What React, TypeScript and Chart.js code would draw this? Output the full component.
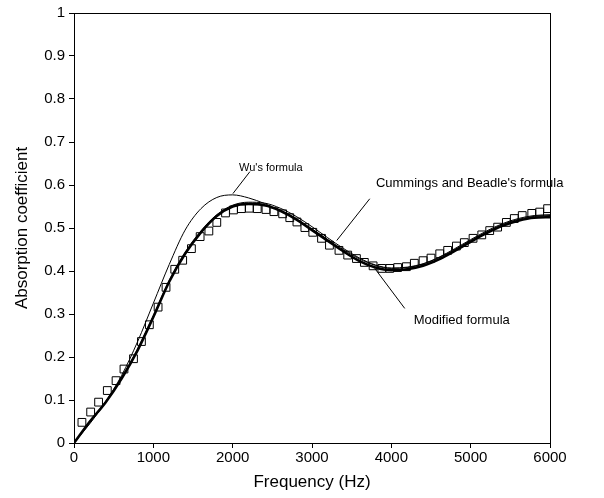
import React, { useEffect, useRef } from "react";
import { Chart, registerables } from "chart.js";

Chart.register(...registerables);

// Frequency grid (Hz) for the three predicted curves
const CURVE_FREQ = [0, 200, 400, 600, 800, 1000, 1200, 1400, 1600, 1800, 2000, 2200, 2400, 2600, 2800, 3000, 3200, 3400, 3600, 3800, 4000, 4200, 4400, 4600, 4800, 5000, 5200, 5400, 5600, 5800, 6000];

// Wu's formula
const WU = [0, 0.045, 0.096, 0.157, 0.235, 0.325, 0.415, 0.495, 0.545, 0.571, 0.577, 0.57, 0.557, 0.541, 0.521, 0.498, 0.473, 0.449, 0.428, 0.413, 0.406, 0.408, 0.416, 0.431, 0.45, 0.471, 0.491, 0.508, 0.52, 0.527, 0.529];

// Cummings and Beadle's formula
const CUMMINGS = [0, 0.05, 0.097, 0.152, 0.218, 0.296, 0.378, 0.443, 0.493, 0.531, 0.553, 0.56, 0.558, 0.546, 0.527, 0.503, 0.477, 0.452, 0.43, 0.414, 0.407, 0.409, 0.417, 0.432, 0.452, 0.473, 0.493, 0.51, 0.522, 0.529, 0.531];

// Modified formula
const MODIFIED = [0, 0.05, 0.095, 0.15, 0.215, 0.293, 0.375, 0.44, 0.49, 0.528, 0.55, 0.556, 0.553, 0.54, 0.52, 0.495, 0.47, 0.445, 0.423, 0.408, 0.402, 0.404, 0.412, 0.427, 0.447, 0.468, 0.488, 0.505, 0.517, 0.524, 0.525];

// Measured values (open squares)
const MEAS_FREQ = [100, 210, 310, 420, 530, 630, 750, 850, 950, 1060, 1160, 1270, 1370, 1480, 1590, 1700, 1800, 1910, 2010, 2110, 2210, 2310, 2420, 2520, 2630, 2720, 2810, 2910, 3010, 3120, 3220, 3340, 3450, 3560, 3660, 3770, 3880, 3980, 4080, 4190, 4290, 4400, 4500, 4610, 4710, 4820, 4920, 5030, 5140, 5240, 5340, 5450, 5550, 5650, 5770, 5870, 5970];
const MEAS_VALUE = [0.048, 0.072, 0.095, 0.122, 0.145, 0.172, 0.196, 0.236, 0.275, 0.316, 0.362, 0.404, 0.425, 0.452, 0.48, 0.493, 0.513, 0.535, 0.542, 0.545, 0.546, 0.545, 0.543, 0.538, 0.533, 0.524, 0.514, 0.501, 0.49, 0.476, 0.46, 0.448, 0.437, 0.429, 0.42, 0.412, 0.406, 0.406, 0.408, 0.41, 0.418, 0.424, 0.43, 0.44, 0.448, 0.458, 0.466, 0.476, 0.484, 0.494, 0.502, 0.513, 0.522, 0.529, 0.534, 0.537, 0.545];

// Annotation labels (data units) with leader lines
const LABELS = ["Wu's formula", "Cummings and Beadle's formula", "Modified formula"];
const LABEL_X = [2481, 4987, 4887];
const LABEL_Y = [0.64, 0.603, 0.285];
const LEADER_FROM_X = [2217, 3728, 4169];
const LEADER_FROM_Y = [0.631, 0.568, 0.313];
const LEADER_TO_X = [2003, 3312, 3791];
const LEADER_TO_Y = [0.58, 0.471, 0.406];
const LABEL_SIZE = [11, 13, 13];

const FONT = "'Liberation Sans', Arial, Helvetica, sans-serif";

const toPoints = (xs: number[], ys: number[]) => xs.map((x, i) => ({ x, y: ys[i] }));

const framePlugin = {
  id: "frameAndNotes",
  afterDatasetsDraw(chart: any) {
    const { ctx, chartArea, scales } = chart;
    const xs = scales.x;
    const ys = scales.y;
    ctx.save();
    ctx.strokeStyle = "#000";
    ctx.lineWidth = 1;
    ctx.strokeRect(chartArea.left + 0.5, chartArea.top + 0.5, chartArea.right - chartArea.left, chartArea.bottom - chartArea.top);
    for (let i = 0; i < LABELS.length; i++) {
      ctx.beginPath();
      ctx.moveTo(xs.getPixelForValue(LEADER_FROM_X[i]), ys.getPixelForValue(LEADER_FROM_Y[i]));
      ctx.lineTo(xs.getPixelForValue(LEADER_TO_X[i]), ys.getPixelForValue(LEADER_TO_Y[i]));
      ctx.stroke();
      ctx.fillStyle = "#000";
      ctx.font = `${LABEL_SIZE[i]}px ${FONT}`;
      ctx.textAlign = "center";
      ctx.textBaseline = "middle";
      ctx.fillText(LABELS[i], xs.getPixelForValue(LABEL_X[i]), ys.getPixelForValue(LABEL_Y[i]));
    }
    ctx.restore();
  },
};

export default function App() {
  const ref = useRef<HTMLCanvasElement | null>(null);
  useEffect(() => {
    if (!ref.current) return;
    const chart = new Chart(ref.current, {
      type: "line",
      data: {
        datasets: [
          {
            label: "Measured",
            data: toPoints(MEAS_FREQ, MEAS_VALUE),
            showLine: false,
            pointStyle: "rect",
            pointRadius: 5.5,
            pointBorderWidth: 1,
            pointBorderColor: "#000",
            pointBackgroundColor: "rgba(0,0,0,0)",
            borderColor: "#000",
          },
          {
            label: "Wu's formula",
            data: toPoints(CURVE_FREQ, WU),
            borderColor: "#000",
            borderWidth: 1,
            pointRadius: 0,
            cubicInterpolationMode: "monotone",
          },
          {
            label: "Cummings and Beadle's formula",
            data: toPoints(CURVE_FREQ, CUMMINGS),
            borderColor: "#000",
            borderWidth: 1,
            pointRadius: 0,
            cubicInterpolationMode: "monotone",
          },
          {
            label: "Modified formula",
            data: toPoints(CURVE_FREQ, MODIFIED),
            borderColor: "#000",
            borderWidth: 2.6,
            pointRadius: 0,
            cubicInterpolationMode: "monotone",
          },
        ],
      },
      options: {
        animation: false,
        responsive: false,
        layout: { padding: { top: 12, right: 54, left: 0, bottom: 0 } },
        plugins: { legend: { display: false }, tooltip: { enabled: false } },
        scales: {
          x: {
            type: "linear",
            min: 0,
            max: 6000,
            afterFit: (s: any) => { s.height = 55; },
            ticks: { stepSize: 1000, color: "#000", font: { family: FONT, size: 15 }, padding: 1, maxRotation: 0, callback: (v: any) => String(v) },
            grid: { display: true, drawOnChartArea: false, drawTicks: true, tickLength: 5, color: "#000" },
            border: { display: true, color: "#000", width: 1 },
            title: { display: true, text: "Frequency (Hz)", color: "#000", font: { family: FONT, size: 17 }, padding: { top: 5, bottom: 5 } },
          },
          y: {
            type: "linear",
            min: 0,
            max: 1,
            afterFit: (s: any) => { s.width = 74; },
            ticks: { stepSize: 0.1, color: "#000", font: { family: FONT, size: 15 }, padding: 4, callback: (v: any) => String(Math.round(Number(v) * 10) / 10) },
            grid: { display: true, drawOnChartArea: false, drawTicks: true, tickLength: 5, color: "#000" },
            border: { display: true, color: "#000", width: 1 },
            title: { display: true, text: "Absorption coefficient", color: "#000", font: { family: FONT, size: 17 }, padding: { top: 12, bottom: 12 } },
          },
        },
      },
      plugins: [framePlugin],
    });
    return () => chart.destroy();
  }, []);
  return (
    <div style={{ position: "absolute", left: 0, top: 0, width: 604, height: 498, background: "#fff" }}>
      <canvas ref={ref} width={604} height={498} />
    </div>
  );
}
